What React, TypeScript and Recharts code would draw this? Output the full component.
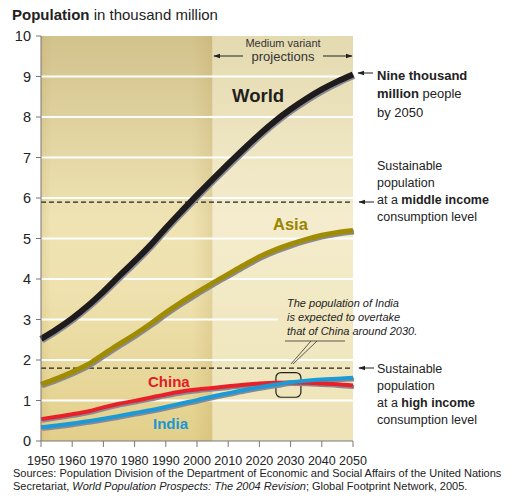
import React from "react";
import {
  LineChart,
  Line,
  XAxis,
  YAxis,
  ReferenceLine,
  ReferenceArea,
} from "recharts";

// population in thousand million, UN medium variant (2004 revision)
const years = [
  1950, 1955, 1960, 1965, 1970, 1975, 1980, 1985, 1990, 1995, 2000, 2005, 2010,
  2015, 2020, 2025, 2030, 2035, 2040, 2045, 2050,
];
const world = [
  2.52, 2.76, 3.03, 3.34, 3.69, 4.07, 4.44, 4.83, 5.26, 5.67, 6.07, 6.46, 6.84,
  7.21, 7.57, 7.9, 8.19, 8.45, 8.68, 8.88, 9.05,
];
const asia = [
  1.4, 1.54, 1.7, 1.89, 2.14, 2.39, 2.63, 2.89, 3.17, 3.43, 3.67, 3.9, 4.12,
  4.34, 4.55, 4.72, 4.86, 4.98, 5.08, 5.15, 5.2,
];
const china = [
  0.54, 0.6, 0.66, 0.73, 0.83, 0.92, 0.99, 1.07, 1.15, 1.22, 1.27, 1.31, 1.35,
  1.39, 1.42, 1.44, 1.445, 1.44, 1.42, 1.4, 1.37,
];
const india = [
  0.34, 0.38, 0.43, 0.49, 0.55, 0.62, 0.69, 0.76, 0.84, 0.93, 1.01, 1.1, 1.18,
  1.26, 1.33, 1.39, 1.45, 1.49, 1.52, 1.54, 1.56,
];

const xTicks = [1950, 1960, 1970, 1980, 1990, 2000, 2010, 2020, 2030, 2040, 2050];
const yTicks = [0, 1, 2, 3, 4, 5, 6, 7, 8, 9, 10];
const gridValues = [1, 2, 4, 5, 6, 7, 8, 9];
const projectionStart = 2005;
const middleIncome = 5.9;
const highIncome = 1.8;

const data = years.map((year, i) => ({
  year,
  world: world[i],
  asia: asia[i],
  china: china[i],
  india: india[i],
}));

const FONT = "'Liberation Sans', Arial, Helvetica, sans-serif";

const series = [
  { key: "china", color: "#e8202a", width: 4 },
  { key: "india", color: "#1b9ad6", width: 4 },
  { key: "asia", color: "#a08c02", width: 5 },
  { key: "world", color: "#1e1b1c", width: 6 },
];

const YearTick = (props: any) => {
  const { x, y, payload } = props;
  return (
    <text x={x} y={y} dy={17.5} textAnchor="middle" fontSize={12.5} fill="#222" fontFamily={FONT}>
      {payload.value}
    </text>
  );
};

export default function App() {
  return (
    <div style={{ position: "absolute", left: 0, top: 0, width: 522, height: 504, fontFamily: FONT }}>
      <style>{`.shade .recharts-line-curve{transform:translate(1px,1.6px)}`}</style>
      <svg width={0} height={0} style={{ position: "absolute" }}>
        <defs>
          <linearGradient id="histBg" x1="0" y1="0" x2="0" y2="1">
            <stop offset="0%" stopColor="#d2c28c" />
            <stop offset="45%" stopColor="#efe3b3" />
            <stop offset="62%" stopColor="#efe2b0" />
            <stop offset="100%" stopColor="#e2cf8a" />
          </linearGradient>
          <linearGradient id="projBg" x1="0" y1="0" x2="0" y2="1">
            <stop offset="0%" stopColor="#e4dab0" />
            <stop offset="45%" stopColor="#f4eccd" />
            <stop offset="100%" stopColor="#eee3b6" />
          </linearGradient>
          <linearGradient id="histEdge" x1="0" y1="0" x2="1" y2="0">
            <stop offset="0%" stopColor="#b89a50" stopOpacity={0.18} />
            <stop offset="6%" stopColor="#b89a50" stopOpacity={0} />
            <stop offset="88%" stopColor="#b89a50" stopOpacity={0} />
            <stop offset="100%" stopColor="#b89a50" stopOpacity={0.22} />
          </linearGradient>
          <marker id="arr" viewBox="0 0 10 10" refX="9" refY="5" markerWidth="7" markerHeight="7" orient="auto-start-reverse">
            <path d="M0,1.5 L10,5 L0,8.5 z" fill="#222" />
          </marker>
        </defs>
      </svg>

      <LineChart
        width={522}
        height={504}
        data={data}
        margin={{ top: 36, right: 169, bottom: 33, left: 0 }}
      >
        <XAxis
          dataKey="year"
          type="number"
          domain={[1950, 2050]}
          ticks={xTicks}
          interval={0}
          height={30}
          tickSize={6}
          tickMargin={0}
          stroke="#777"
          tick={<YearTick />}
        />
        <YAxis
          type="number"
          domain={[0, 10]}
          ticks={yTicks}
          interval={0}
          width={41}
          tickSize={5}
          tickMargin={5}
          stroke="#777"
          tick={{ fill: "#222", fontSize: 14.5, fontFamily: FONT }}
        />
        <ReferenceArea x1={1950} x2={projectionStart} y1={0} y2={10} fill="url(#histBg)" fillOpacity={1} stroke="none" />
        <ReferenceArea x1={projectionStart} x2={2050} y1={0} y2={10} fill="url(#projBg)" fillOpacity={1} stroke="none" />
        <ReferenceArea x1={1950} x2={projectionStart} y1={0} y2={10} fill="url(#histEdge)" fillOpacity={1} stroke="none" />
        {gridValues.map((v) => (
          <ReferenceLine key={v} y={v} stroke="#ffffff" strokeWidth={2.2} />
        ))}
        <ReferenceLine
          segment={[
            { x: 1950, y: 3 },
            { x: 2026, y: 3 },
          ]}
          stroke="#ffffff"
          strokeWidth={2.2}
        />
        <ReferenceLine y={middleIncome} stroke="#222" strokeWidth={1.2} strokeDasharray="5 3" />
        <ReferenceLine y={highIncome} stroke="#222" strokeWidth={1.2} strokeDasharray="5 3" />
        {series.map((s) => (
          <Line
            key={s.key + "-shade"}
            className="shade"
            dataKey={s.key}
            type="monotone"
            stroke="#8a8a95"
            strokeWidth={s.width}
            dot={false}
            activeDot={false}
            isAnimationActive={false}
          />
        ))}
        {series.map((s) => (
          <Line
            key={s.key}
            dataKey={s.key}
            type="monotone"
            stroke={s.color}
            strokeWidth={s.width}
            dot={false}
            activeDot={false}
            isAnimationActive={false}
          />
        ))}
        <ReferenceArea
          x1={2025.3}
          x2={2033.3}
          y1={1.08}
          y2={1.69}
          shape={(p: any) => (
            <rect x={p.x} y={p.y} width={p.width} height={p.height} rx={5} fill="none" stroke="#222" strokeWidth={1.2} />
          )}
        />
      </LineChart>

      <svg
        width={522}
        height={504}
        style={{ position: "absolute", left: 0, top: 0, pointerEvents: "none" }}
        fontFamily={FONT}
      >
        <text x={12} y={20} fontSize={15} fill="#222">
          <tspan fontWeight="bold">Population</tspan> in thousand million
        </text>

        <text x={283} y={47} fontSize={11} fill="#333" textAnchor="middle">Medium variant</text>
        <text x={283} y={61} fontSize={13} fill="#333" textAnchor="middle">projections</text>
        <line x1={243} y1={56} x2={214} y2={56} stroke="#222" strokeWidth={1} markerEnd="url(#arr)" />
        <line x1={323} y1={56} x2={352} y2={56} stroke="#222" strokeWidth={1} markerEnd="url(#arr)" />

        <text x={232} y={102} fontSize={18.5} fontWeight="bold" fill="#231f20">World</text>
        <text x={273} y={230} fontSize={16.5} fontWeight="bold" fill="#9a8500">Asia</text>
        <text x={148} y={387} fontSize={15} fontWeight="bold" fill="#e31b23">China</text>
        <text x={153} y={429} fontSize={15} fontWeight="bold" fill="#1a96d0">India</text>

        <line x1={373} y1={73} x2={358} y2={73} stroke="#222" strokeWidth={1} markerEnd="url(#arr)" />
        <text x={377} y={80} fontSize={13} fill="#222" fontWeight="bold">Nine thousand</text>
        <text x={377} y={98} fontSize={13} fill="#222">
          <tspan fontWeight="bold">million</tspan> people
        </text>
        <text x={377} y={117} fontSize={13} fill="#222">by 2050</text>

        <line x1={374} y1={202} x2={359} y2={202} stroke="#222" strokeWidth={1} markerEnd="url(#arr)" />
        <text x={377} y={170} fontSize={12.5} fill="#222">Sustainable</text>
        <text x={377} y={187} fontSize={12.5} fill="#222">population</text>
        <text x={377} y={204} fontSize={12.5} fill="#222">
          at a <tspan fontWeight="bold">middle income</tspan>
        </text>
        <text x={377} y={221} fontSize={12.5} fill="#222">consumption level</text>

        <line x1={374} y1={368} x2={359} y2={368} stroke="#222" strokeWidth={1} markerEnd="url(#arr)" />
        <text x={377} y={373} fontSize={12.5} fill="#222">Sustainable</text>
        <text x={377} y={390} fontSize={12.5} fill="#222">population</text>
        <text x={377} y={407} fontSize={12.5} fill="#222">
          at a <tspan fontWeight="bold">high income</tspan>
        </text>
        <text x={377} y={424} fontSize={12.5} fill="#222">consumption level</text>

        <text x={287} y={307} fontSize={11} fontStyle="italic" fill="#222">The population of India</text>
        <text x={287} y={321} fontSize={11} fontStyle="italic" fill="#222">is expected to overtake</text>
        <text x={287} y={335} fontSize={11} fontStyle="italic" fill="#222">that of China around 2030.</text>
        <line x1={285} y1={341} x2={345} y2={341} stroke="#333" strokeWidth={0.8} />
        <line x1={311} y1={341} x2={291} y2={364} stroke="#333" strokeWidth={0.8} />
        <line x1={317} y1={341} x2={293} y2={364} stroke="#333" strokeWidth={0.8} />

        <text x={13} y={477} fontSize={11} fill="#222">
          Sources: Population Division of the Department of Economic and Social Affairs of the United Nations
        </text>
        <text x={13} y={490} fontSize={11} fill="#222">
          Secretariat, <tspan fontStyle="italic">World Population Prospects: The 2004 Revision</tspan>; Global Footprint Network, 2005.
        </text>
      </svg>
    </div>
  );
}
